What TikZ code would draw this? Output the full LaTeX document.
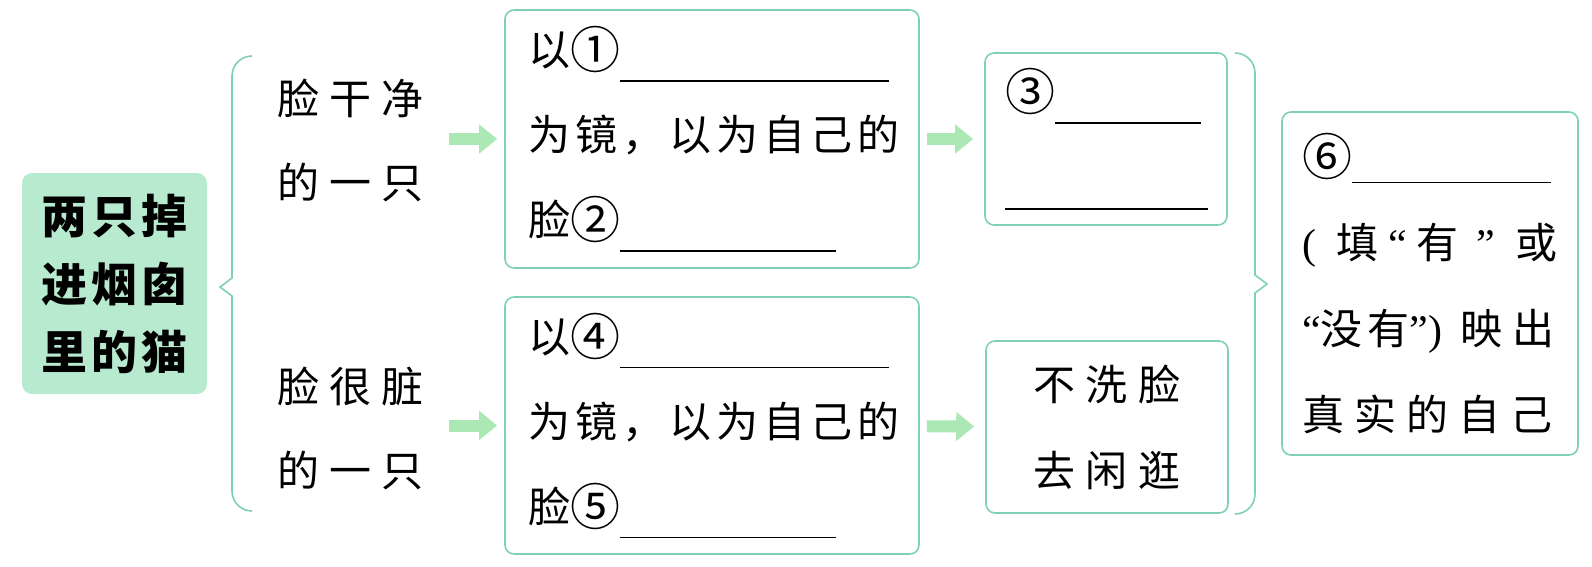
\documentclass[tikz,border=0pt]{standalone}
\usepackage{fontspec}
\usepackage{xcolor}
\usetikzlibrary{arrows.meta}

\newfontfamily\cjk[LetterSpace=12]{Noto Sans CJK SC}
\newfontfamily\cjkw[LetterSpace=24]{Noto Sans CJK SC}
\newfontfamily\cjkb[LetterSpace=8]{Noto Sans CJK SC}
\newfontfamily\latin{Liberation Serif}
\newcommand{\blank}[2][16pt]{\rule[-#1]{#2}{1.3pt}}
\newcommand{\num}[1]{\raisebox{-3pt}{\cjk\fontsize{50pt}{50pt}\selectfont #1}}

\definecolor{boxline}{RGB}{128,208,178}
\definecolor{mint}{RGB}{184,234,208}
\definecolor{arrowgreen}{RGB}{172,232,182}

\begin{document}
\begin{tikzpicture}[x=1pt,y=-1pt,
    box/.style={draw=boxline, line width=1.6pt, rounded corners=9pt, inner xsep=21pt, inner ysep=0pt, text=black},
    txt/.style={align=left, inner sep=0pt, text width=160pt, font=\cjkw\fontsize{42pt}{84pt}\selectfont},
    go/.style={draw=arrowgreen, line width=12pt, -{Triangle[length=18pt,width=28pt]}},
    brace/.style={draw=boxline, line width=1.6pt}]
    \useasboundingbox (0,0) rectangle (1592,566);

    \node[fill=mint, rounded corners=10pt, minimum width=185pt, minimum height=221pt, align=center,
        font=\cjkb\bfseries\fontsize{46pt}{68pt}\selectfont] (cat) at (114.5,283.5) {两只掉\\进烟囱\\里的猫};

    \node[txt, anchor=west] (lt1) at (277,140) {脸干净\\的一只};
    \node[txt, anchor=west] (lt2) at (277,428.5) {脸很脏\\的一只};

    \node[box, inner xsep=23pt, text width=368pt, minimum height=258pt, align=left,
        font=\cjk\fontsize{42pt}{85pt}\selectfont] (b1) at (712,139)
        {以\num{①}\blank{269pt}\\为镜，以为自己的\\脸\num{②}\blank{216pt}};
    \node[box, inner xsep=23pt, text width=368pt, minimum height=257pt, align=left,
        font=\cjk\fontsize{42pt}{85pt}\selectfont] (b2) at (712,425.5)
        {以\num{④}\blank{269pt}\\为镜，以为自己的\\脸\num{⑤}\blank{216pt}};

    \node[box, inner xsep=20pt, text width=202pt, minimum height=172pt, align=left,
        font=\cjk\fontsize{42pt}{86pt}\selectfont] (b3) at (1106,139)
        {\num{③}\blank{146pt}\\\blank{203pt}};
    \node[box, inner xsep=20pt, text width=202pt, minimum height=172pt, align=center,
        font=\cjkw\fontsize{42pt}{86pt}\selectfont] (b4) at (1107,427)
        {不洗脸\\去闲逛};

    \node[box, inner xsep=20pt, text width=256pt, minimum height=343pt, align=left,
        font=\cjkw\fontsize{42pt}{86pt}\selectfont] (b5) at (1430,283.5)
        {\num{⑥}\blank[11pt]{199pt}\\
         {\latin(}\hspace{20pt}填\hspace{10pt}{\latin“}\hspace{10pt}有\hspace{18pt}{\latin”}\hspace{20pt}或\\
         {\cjk{\latin“}没有{\latin”)}\hspace{18pt}}映出\\
         真实的自己};

    \draw[brace] (252,56) to[out=180,in=90] (232,76) -- (232,278) -- (220,287) -- (232,296)
        -- (232,491) to[out=-90,in=180] (252,511);
    \draw[brace] (1235,53) to[out=0,in=90] (1255,73) -- (1255,275) -- (1267,284) -- (1255,293)
        -- (1255,494) to[out=-90,in=0] (1235,514);

    \draw[go, shorten <=12pt, shorten >=7pt] (lt1.east |- b1.west) -- (b1.west);
    \draw[go, shorten <=12pt, shorten >=7pt] (lt2.east |- b2.west) -- (b2.west);
    \draw[go, shorten <=7pt, shorten >=11pt] (b1) -- (b3);
    \draw[go, shorten <=7pt, shorten >=11pt] (b2) -- (b4);
\end{tikzpicture}
\end{document}
